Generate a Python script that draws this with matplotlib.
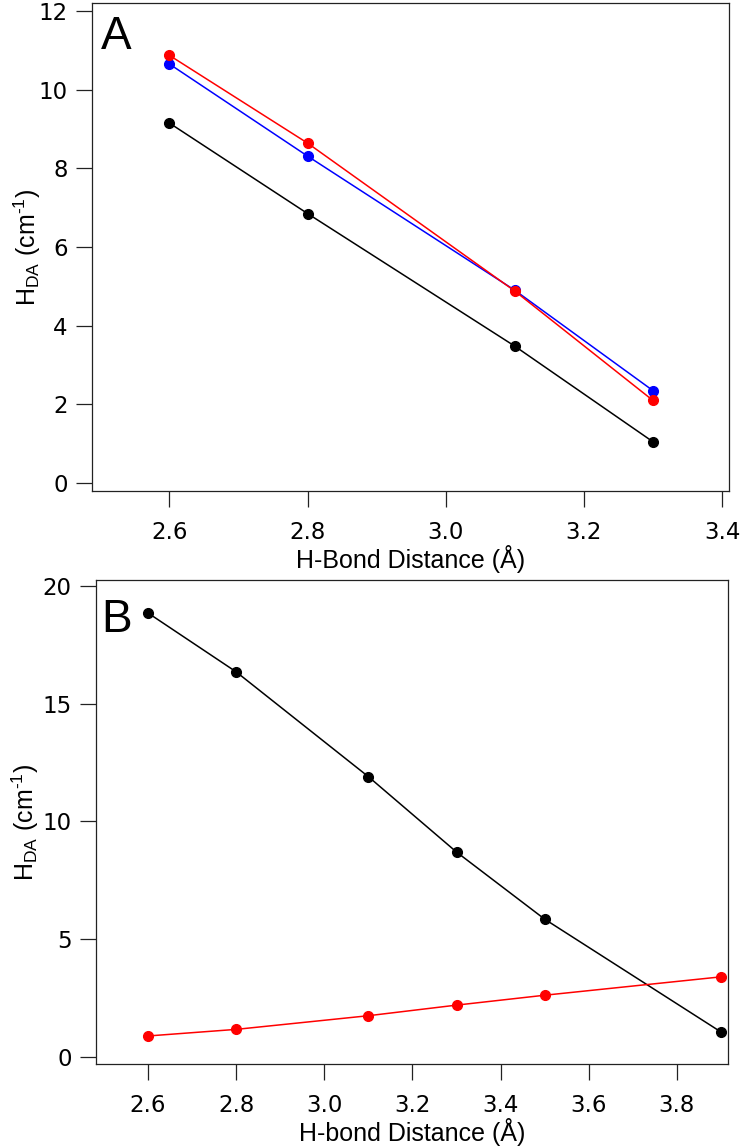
import numpy as np
import matplotlib
matplotlib.use('Agg')
from matplotlib import pyplot as plt

# panel A data
dist_a = [2.6, 2.8, 3.1, 3.3]
hda_a_black = [9.15, 6.85, 3.48, 1.05]
hda_a_blue = [10.65, 8.31, 4.9, 2.35]
hda_a_red = [10.87, 8.64, 4.88, 2.1]

# panel B data
dist_b = [2.6, 2.8, 3.1, 3.3, 3.5, 3.9]
hda_b_black = [18.85, 16.35, 11.9, 8.7, 5.85, 1.06]
hda_b_red = [0.89, 1.17, 1.75, 2.2, 2.62, 3.4]

xticks_a = [2.6, 2.8, 3.0, 3.2, 3.4]
yticks_a = [0, 2, 4, 6, 8, 10, 12]
xticks_b = [2.6, 2.8, 3.0, 3.2, 3.4, 3.6, 3.8]
yticks_b = [0, 5, 10, 15, 20]

spine_col = '#222222'
tick_font = 'DejaVu Sans'
label_font = 'Liberation Sans'
ylab = 'H$_{\\mathregular{DA}}$ (cm$^{\\mathregular{\u20101}}$)'

fig = plt.figure(figsize=(7.4, 11.46), dpi=100)
axA = fig.add_axes([92/740, 1-491/1146, (729-92)/740, (491-3)/1146])
axB = fig.add_axes([96/740, 1-1064/1146, (728-96)/740, (1064-580)/1146])


def style_axis(ax):
    for s in ax.spines.values():
        s.set_color(spine_col)
        s.set_linewidth(0.9)
    ax.tick_params(direction='out', length=11.5, width=0.9, color=spine_col,
                   top=False, right=False)
    ax.tick_params(axis='x', pad=10)
    ax.tick_params(axis='y', pad=6)
    for t in ax.get_xticklabels() + ax.get_yticklabels():
        t.set_fontfamily(tick_font)
        t.set_fontsize(16.5)


ms = 7
lw = 1.1
axA.plot(dist_a, hda_a_black, '-o', color='black', ms=ms, lw=lw)
axA.plot(dist_a, hda_a_blue, '-o', color='#0000ff', ms=ms, lw=lw)
axA.plot(dist_a, hda_a_red, '-o', color='#ff0000', ms=ms, lw=lw)
axA.set_xlim(2.488, 3.41)
axA.set_ylim(-0.2, 12.2)
axA.set_xticks(xticks_a)
axA.set_yticks(yticks_a)
axA.set_xticklabels(['%.1f' % v for v in xticks_a])
axA.set_yticklabels([str(v) for v in yticks_a])
style_axis(axA)
axA.set_xlabel('H-Bond Distance (Å)', fontfamily=label_font, fontsize=18, labelpad=1)
axA.set_ylabel(ylab, fontfamily=label_font, fontsize=18, labelpad=-3)
axA.text(0.014, 0.975, 'A', transform=axA.transAxes, fontfamily=label_font,
         fontsize=33, va='top', ha='left')

axB.plot(dist_b, hda_b_black, '-o', color='black', ms=ms, lw=lw)
axB.plot(dist_b, hda_b_red, '-o', color='#ff0000', ms=ms, lw=lw)
axB.set_xlim(2.482, 3.916)
axB.set_ylim(-0.3, 20.25)
axB.set_xticks(xticks_b)
axB.set_yticks(yticks_b)
axB.set_xticklabels(['%.1f' % v for v in xticks_b])
axB.set_yticklabels([str(v) for v in yticks_b])
style_axis(axB)
axB.set_xlabel('H-bond Distance (Å)', fontfamily=label_font, fontsize=18, labelpad=1)
axB.set_ylabel(ylab, fontfamily=label_font, fontsize=18, labelpad=1)
axB.text(0.008, 0.962, 'B', transform=axB.transAxes, fontfamily=label_font,
         fontsize=33, va='top', ha='left')

fig.savefig('out.png', dpi=100)
